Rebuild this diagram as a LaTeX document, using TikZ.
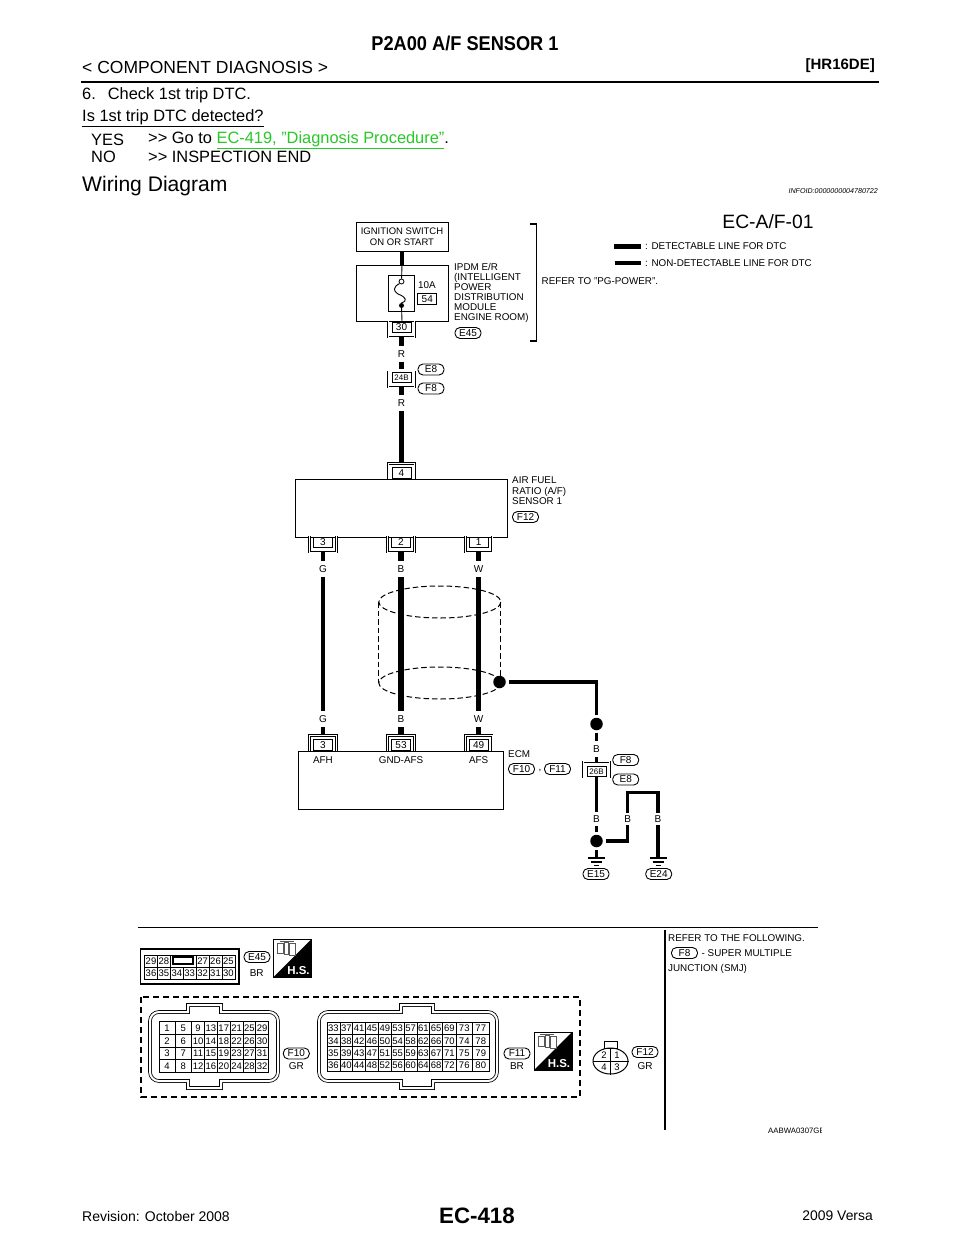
\documentclass[tikz,border=0pt]{standalone}
\usepackage{fontspec}
\usetikzlibrary{shapes.geometric}
\setmainfont{Liberation Sans}
\definecolor{linkgreen}{RGB}{40,200,40}
\newcommand{\fs}[1]{\fontsize{#1}{#1}\selectfont}
\tikzset{
  box/.style={draw,line width=1pt,inner sep=0pt,align=center},
  tag/.style={draw,line width=.9pt,rounded corners=5pt,minimum width=26pt,minimum height=11pt,inner sep=0pt,font=\fs{10}},
  pinbox/.style={draw,line width=.8pt,minimum width=19pt,minimum height=10.5pt,inner sep=0pt,font=\fs{10}},
  brack/.style={draw,line width=.85pt,double,double distance=.9pt},
  wcol/.style={minimum height=16pt,minimum width=10pt,inner sep=0pt,font=\fs{10}},
  wthick/.style={line width=5.5pt},
  wthin/.style={line width=3.3pt},
  jdot/.style={circle,fill=black,minimum size=12.5pt,inner sep=0pt,outer sep=3pt},
  lab/.style={inner sep=0pt,anchor=west,align=left,font=\fs{9.85}},
  txt/.style={inner sep=0pt,anchor=west,font=\fs{16.4}},
  cell/.style={inner sep=0pt,text height=6.8pt,text depth=0pt,font=\fs{9.5}},
  shellline/.style={draw,line width=.8pt,double,double distance=2pt},
  grnd/.style={line width=1.2pt},
  hsicon/.pic={
    \draw[line width=.8pt] (0,0) rectangle (38,38);
    \fill (0,38) -- (38,0) -- (38,38) -- cycle;
    \draw[black!65,line width=.8pt] (4,4) rectangle (10,14) (11,3) rectangle (15,15) (16,4) rectangle (22,16);
    \draw[black!65,line width=.8pt] (6,2) -- (20,2);
    \node[text=white,inner sep=0pt,font=\bfseries\fs{11.5}] at (25,32) {H.S.};
  }
}
\begin{document}
\begin{tikzpicture}[x=1pt,y=-1pt]
\useasboundingbox[fill=white] (0,0) rectangle (960,1242);

\node[inner sep=0pt,xscale=.91,font=\bfseries\fs{20}] (title) at (465,43) {P2A00 A/F SENSOR 1};
\node[txt,font=\fs{17.5}] (crumb) at (82,67) {< COMPONENT DIAGNOSIS >};
\node[txt,anchor=east,font=\bfseries\fs{15}] (engine) at (875,66) {[HR16DE]};
\draw[line width=2.5pt] (81,82) -- (879,82);
\node[txt] (stepsix) at (82,95) {6.\hspace{12pt}Check 1st trip DTC.};
\node[txt] (question) at (82,118) {\underline{Is 1st trip DTC detected?}};
\node[txt] (yes) at (91,140) {YES};
\node[txt] (yesgo) at (148,140) {>{}> Go to \textcolor{linkgreen}{\underline{EC-419, "Diagnosis Procedure"}}.};
\node[txt] (no) at (91,157) {NO};
\node[txt] (noend) at (148,157) {>{}> INSPECTION END};
\node[txt,font=\fs{21.1}] (wiring) at (82,186) {Wiring Diagram};
\node[txt,anchor=east,font=\itshape\fs{7.1}] (infoid) at (878,191.5) {INFOID:0000000004780722};

\node[inner sep=0pt,font=\fs{19.3}] (dname) at (768,222) {EC-A/F-01};
\draw[line width=5pt] (614,246) -- (640.5,246);
\node[lab] (legA) at (645,246) {: DETECTABLE LINE FOR DTC};
\draw[wthin] (614.5,263) -- (640.5,263);
\node[lab] (legB) at (645,263) {: NON-DETECTABLE LINE FOR DTC};
\draw[line width=1.3pt] (530,224) -- (536.5,224) -- (536.5,341) -- (530,341);
\node[lab] (refpg) at (541.5,281.5) {REFER TO "PG-POWER".};

\node[box,minimum width=92pt,minimum height=29pt,font=\fs{9.5}] (ign) at (402,236.5) {IGNITION SWITCH\\[1pt]ON OR START};
\node[box,minimum width=92pt,minimum height=56pt] (ipdm) at (402,293) {};
\node[box,minimum width=26pt,minimum height=36pt,line width=.9pt] (fuse) at (401.5,293) {};
\node[circle,draw,line width=.8pt,minimum size=5pt,inner sep=0pt] (fusea) at (401.5,281.5) {};
\node[circle,fill=black,minimum size=5pt,inner sep=0pt] (fuseb) at (401.5,305.5) {};
\draw[line width=.9pt] (ipdm.north) -- (fusea);
\draw[line width=.9pt] (fuseb) -- (ipdm.south);
\draw[line width=.9pt] (fusea.south west) .. controls (393,287) and (393,291) .. (398,294) .. controls (406,297) and (408,301) .. (fuseb.north);
\draw[wthin] (ign) -- (ipdm);
\node[cell,font=\fs{9.85}] (amp) at (427,285) {10A};
\node[pinbox] (fuseno) at (427.3,298.7) {54};
\node[lab,anchor=north west] (ipdmlab) at (454,263.5) {IPDM E/R\\[.1pt](INTELLIGENT\\[.1pt]POWER\\[.1pt]DISTRIBUTION\\[.1pt]MODULE\\[.1pt]ENGINE ROOM)};
\node[tag] (tagEfour) at (468,333) {E45};

\node[wcol] (colRa) at (401.5,354) {R};
\node[wcol] (colRb) at (401.5,403) {R};
\node[tag] (tagEa) at (431,369.5) {E8};
\node[tag] (tagFa) at (431,388.5) {F8};

\node[box,minimum width=212.5pt,minimum height=58pt] (sensor) at (401.3,508) {};
\node[lab,anchor=north west] (sensorlab) at (512,477) {AIR FUEL\\[.2pt]RATIO (A/F)\\[.2pt]SENSOR 1};
\node[tag] (tagFtw) at (525.5,517) {F12};

\foreach \nm/\x/\y/\tx in {pA/401.5/327.3/30,pB/401.5/377.5/{\fs{8}24B},pD/323/542.3/3,pE/401/542.3/2,pF/478.7/542.3/1}{
  \node[pinbox] (\nm) at (\x,\y) {\tx};
  \draw[brack] ([xshift=-3.5pt,yshift=.5pt]\nm.north west) -- ([xshift=-3.5pt,yshift=-4pt]\nm.south west) -- ([xshift=3.5pt,yshift=-4pt]\nm.south east) -- ([xshift=3.5pt,yshift=.5pt]\nm.north east);
}
\foreach \nm/\x/\y/\tx in {pC/401.5/473/4,pG/323/745/3,pH/401/745/53,pI/478.7/745/49,pJ/596.5/771.5/{\fs{8}26B}}{
  \node[pinbox] (\nm) at (\x,\y) {\tx};
  \draw[brack] ([xshift=-3.5pt,yshift=-.5pt]\nm.south west) -- ([xshift=-3.5pt,yshift=4pt]\nm.north west) -- ([xshift=3.5pt,yshift=4pt]\nm.north east) -- ([xshift=3.5pt,yshift=-.5pt]\nm.south east);
}
\draw[wthick] ([yshift=-4pt]pA.south) -- (colRa);
\draw[wthick] (colRa) -- ([yshift=3pt]pB.north);
\draw[wthick] ([yshift=-4pt]pB.south) -- (colRb);
\draw[wthick] (colRb) -- ([yshift=4pt]pC.north);

\node[wcol] (colGa) at (323,569) {G};
\node[wcol] (colBa) at (401,569) {B};
\node[wcol] (colWa) at (478.7,569) {W};
\node[wcol] (colGb) at (323,719) {G};
\node[wcol] (colBb) at (401,719) {B};
\node[wcol] (colWb) at (478.7,719) {W};

\draw[line width=1pt,dash pattern=on 5.5pt off 3pt] (439.8,602) ellipse (61 and 16);
\draw[line width=1pt,dash pattern=on 5.5pt off 3pt] (439.8,683) ellipse (61 and 16);
\draw[line width=1pt,dash pattern=on 5.5pt off 3pt] (378.8,602) -- (378.8,683);
\draw[line width=1pt,dash pattern=on 5.5pt off 3pt] (500.8,602) -- (500.8,683);

\draw[wthin] ([yshift=-4pt]pD.south) -- (colGa);
\draw[wthin] (colGa) -- (colGb);
\draw[wthin] (colGb) -- ([yshift=4pt]pG.north);
\draw[wthick] ([yshift=-4pt]pE.south) -- (colBa);
\draw[wthick] (colBa) -- (colBb);
\draw[wthick] (colBb) -- ([yshift=4pt]pH.north);
\draw[wthick] ([yshift=-4pt]pF.south) -- (colWa);
\draw[wthick] (colWa) -- (colWb);
\draw[wthick] (colWb) -- ([yshift=4pt]pI.north);

\node[box,minimum width=205pt,minimum height=58pt] (ecm) at (400.5,780) {};
\node[cell,font=\fs{9.85}] (afh) at (323,760.5) {AFH};
\node[cell,font=\fs{9.85}] (gndafs) at (401,760.5) {GND-AFS};
\node[cell,font=\fs{9.85}] (afs) at (478.7,760.5) {AFS};
\node[lab] (ecmlab) at (508,754) {ECM};
\node[tag] (tagFten) at (521.5,769) {F10};
\node[inner sep=0pt,font=\fs{10}] (comma) at (540,771) {,};
\node[tag] (tagFel) at (557.5,769) {F11};

\node[jdot] (dotShield) at (499.5,682) {};
\node[jdot] (dotB) at (596.5,724) {};
\node[wcol] (colBc) at (596.5,749) {B};
\node[tag] (tagFb) at (625.7,760) {F8};
\node[tag] (tagEb) at (625.7,779.5) {E8};
\node[wcol,minimum height=14pt] (colBd) at (596.5,818.7) {B};
\node[jdot] (dotC) at (596.5,841) {};
\node[wcol,minimum height=12pt] (colBe) at (627.7,818.7) {B};
\node[wcol,minimum height=12pt] (colBf) at (658,818.7) {B};
\coordinate (gndA) at (596.5,858);
\coordinate (gndB) at (658,858);
\node[tag] (tagEft) at (596,874) {E15};
\node[tag] (tagEtf) at (658.7,874) {E24};

\draw[wthin] (dotShield) -| (dotB);
\draw[wthin] (dotB) -- (colBc);
\draw[wthin] (colBc) -- ([yshift=4pt]pJ.north);
\draw[wthin] (pJ) -- (colBd);
\draw[wthin] (colBd) -- (dotC);
\draw[wthin] (dotC) -- (gndA);
\draw[wthin] (dotC) -| (colBe);
\draw[wthin] (colBe) |- (658,792.7) -- (colBf);
\draw[wthin] (colBf) -- (gndB);
\foreach \g in {gndA,gndB}{
  \draw[grnd] ([xshift=-8.5pt]\g) -- ([xshift=8.5pt]\g);
  \draw[grnd] ([xshift=-5.5pt,yshift=-4pt]\g) -- ([xshift=5.5pt,yshift=-4pt]\g);
  \draw[grnd] ([xshift=-2.5pt,yshift=-7.5pt]\g) -- ([xshift=2.5pt,yshift=-7.5pt]\g);
}

\draw[line width=1.5pt] (138,927.5) -- (818,927.5);
\draw[line width=1.5pt] (665,930) -- (665,1130);

\draw[line width=1.2pt] (140.7,949) rectangle (239,984);
\draw[line width=.8pt] (144.5,955) rectangle (235,979);
\foreach \i/\tx in {0/36,1/35,2/34,3/33,4/32,5/31,6/30}{
  \node[cell,draw,line width=.7pt,minimum width=12.9pt,minimum height=12pt] (eb\tx) at (151+12.9*\i,973) {\tx};
}
\foreach \x/\tx in {151/29,163.9/28,202.6/27,215.5/26,228.4/25}{
  \node[cell,draw,line width=.7pt,minimum width=12.9pt,minimum height=12pt] (et\tx) at (\x,961) {\tx};
}
\draw[line width=1.2pt] (173,957) rectangle (193,964);
\node[tag] (tagEgrid) at (257,957) {E45};
\node[cell,font=\fs{10}] (colEgrid) at (256.7,972.7) {BR};
\pic at (273.5,939) {hsicon};

\draw[line width=1.2pt,dash pattern=on 6pt off 4pt] (141,997) rectangle (580,1097);

\draw[shellline] (188,1011) -- (188,1005) -- (221,1005) -- (221,1012) [rounded corners=9pt] -- (278,1012) -- (278,1081) [sharp corners] -- (221,1081) -- (221,1088) -- (188,1088) -- (188,1081) [rounded corners=9pt] -- (150,1081) -- (150,1012) [sharp corners] -- (188,1012) -- cycle;
\foreach \c/\xa/\xb in {0/159/175,1/175/191.7,2/191.7/204.5,3/204.5/217.3,4/217.3/230.2,5/230.2/243,6/243/255.7,7/255.7/268.5}{
  \foreach \r in {0,1,2,3}{
    \pgfmathtruncatemacro{\num}{4*\c+\r+1}
    \node[cell,draw,line width=.8pt,minimum width={\xb pt-\xa pt},minimum height=12.7pt] (ften\num) at ({(\xa+\xb)/2},{1028+12.7*\r}) {\num};
  }
}
\node[tag] (tagFgrid) at (296.3,1053.5) {F10};
\node[cell,font=\fs{10}] (colFgrid) at (296.3,1066) {GR};

\draw[shellline] (401,1012) -- (401,1005) -- (433,1005) -- (433,1012) [rounded corners=9pt] -- (497,1012) -- (497,1081) [sharp corners] -- (433,1081) -- (433,1088) -- (401,1088) -- (401,1081) [rounded corners=9pt] -- (319,1081) -- (319,1012) [sharp corners] -- (401,1012) -- cycle;
\foreach \c/\xa/\xb in {0/327/339.9,1/339.9/352.7,2/352.7/365.5,3/365.5/378.4,4/378.4/391.2,5/391.2/404.1,6/404.1/417,7/417/429.8,8/429.8/442.6,9/442.6/456,10/456/472.5,11/472.5/489}{
  \foreach \r in {0,1,2,3}{
    \pgfmathtruncatemacro{\num}{33+4*\c+\r}
    \node[cell,draw,line width=.8pt,minimum width={\xb pt-\xa pt},minimum height=12.2pt] (fel\num) at ({(\xa+\xb)/2},{1028.5+12.2*\r}) {\num};
  }
}
\node[tag] (tagFegrid) at (517,1053.5) {F11};
\node[cell,font=\fs{10}] (colFegrid) at (517,1066) {BR};
\pic at (534,1032) {hsicon};

\draw[line width=1pt] (604,1048) rectangle (617,1041);
\node[ellipse,draw,line width=1pt,minimum width=35pt,minimum height=26pt,inner sep=0pt] (ften) at (610.5,1061) {};
\draw[line width=1pt] (ften.west) -- (ften.east);
\draw[line width=1pt] (ften.north) -- (ften.south);
\node[cell] (ftwA) at (604,1055) {2};
\node[cell] (ftwB) at (617,1055) {1};
\node[cell] (ftwC) at (604,1067) {4};
\node[cell] (ftwD) at (617,1067) {3};
\node[tag] (tagFtwo) at (645,1052) {F12};
\node[cell,font=\fs{10}] (colFtwo) at (645,1066) {GR};

\node[lab] (refA) at (668,937.7) {REFER TO THE FOLLOWING.};
\node[tag] (tagFnote) at (684.5,953) {F8};
\node[lab] (refB) at (701.5,953) {- SUPER MULTIPLE};
\node[lab] (refC) at (668,969) {JUNCTION (SMJ)};
\begin{scope}
\clip (760,1120) rectangle (821,1140);
\node[lab,font=\fs{7.8}] (figid) at (768,1130.7) {AABWA0307GE};
\end{scope}

\node[txt,font=\fs{14}] (rev) at (82,1216) {Revision: October 2008};
\node[inner sep=0pt,font=\bfseries\fs{22.3}] (pageno) at (477,1215.5) {EC-418};
\node[txt,anchor=east,font=\fs{13.9}] (model) at (873,1216) {2009 Versa};
\end{tikzpicture}
\end{document}
